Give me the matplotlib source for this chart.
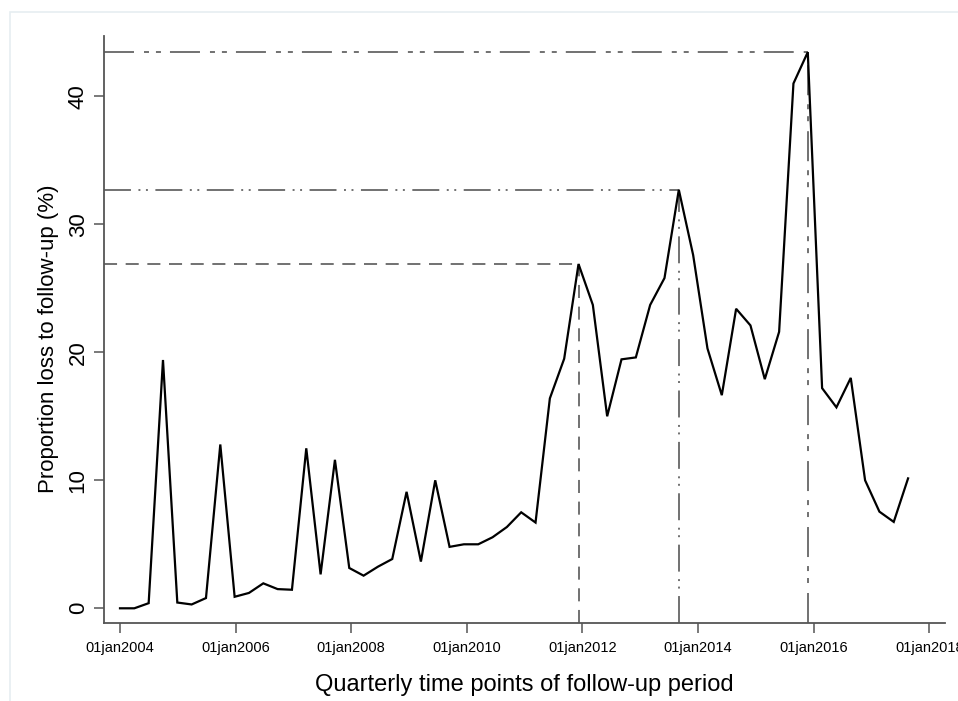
import numpy as np
import matplotlib
matplotlib.use("Agg")
import matplotlib.pyplot as plt
from matplotlib.patches import Rectangle

plt.rcParams['font.family'] = ['Liberation Sans', 'DejaVu Sans']
plt.rcParams['lines.scale_dashes'] = False

# Quarterly follow-up points starting 01jan2004 (about 90.5 days apart)
start_year = 2004.0
quarter_step_years = 0.2479
loss_pct = [0.0, 0.0, 0.4, 19.4, 0.45, 0.3, 0.8, 12.8, 0.9, 1.2,
            1.95, 1.5, 1.45, 12.5, 2.65, 11.6, 3.15, 2.55, 3.25, 3.85,
            9.1, 3.65, 10.0, 4.8, 5.0, 5.0, 5.55, 6.35, 7.5, 6.7,
            16.4, 19.5, 26.9, 23.7, 15.0, 19.45, 19.6, 23.7, 25.8, 32.7,
            27.6, 20.3, 16.65, 23.4, 22.1, 17.9, 21.6, 41.0, 43.45, 17.2,
            15.7, 18.0, 10.0, 7.55, 6.75, 10.15]
peak_indices = [32, 39, 48]
x_tick_years = [2004, 2006, 2008, 2010, 2012, 2014, 2016, 2018]
x_tick_labels = ["01jan2004", "01jan2006", "01jan2008", "01jan2010",
                 "01jan2012", "01jan2014", "01jan2016", "01jan2018"]
y_ticks = [0, 10, 20, 30, 40]

x = start_year + np.arange(len(loss_pct)) * quarter_step_years
y = np.array(loss_pct)

W, H = 958, 701
fig = plt.figure(figsize=(W / 100, H / 100), dpi=100)
fig.patch.set_facecolor('white')
# light outer graph-region frame
fig.patches.append(Rectangle((10 / W, -0.05), 1.1, 1 - 12 / H + 0.05,
                             transform=fig.transFigure, fill=False,
                             edgecolor='#e6eef1', linewidth=1.2))

ax = fig.add_axes([104 / W, 1 - 623 / H, (945 - 104) / W, (623 - 36) / H])
xmin = 2004 - (120 - 104) / 57.8
xmax = 2004 + (945 - 120) / 57.8
ymin = (608.3 - 623) / 12.8
ymax = (608.3 - 36) / 12.8
ax.set_xlim(xmin, xmax)
ax.set_ylim(ymin, ymax)

ref_color = '#4a4a4a'
styles = [
    (0, (9.4, 6.2)),
    (0, (19.4, 5.4, 1.4, 4.0, 1.4, 5.4)),
    (0, (21.6, 7.2, 3.6, 5.0, 3.6, 6.5)),
]
for idx, ls in zip(peak_indices, styles):
    px, py = x[idx], y[idx]
    ax.plot([xmin, px], [py, py], color=ref_color, lw=1.1, linestyle=ls,
            solid_capstyle='butt', dash_capstyle='butt')
    ax.plot([px, px], [ymin, py], color=ref_color, lw=1.1, linestyle=ls,
            solid_capstyle='butt', dash_capstyle='butt')

ax.plot(x, y, color='black', lw=1.6, solid_joinstyle='miter')

for s in ['top', 'right']:
    ax.spines[s].set_visible(False)
for s in ['left', 'bottom']:
    ax.spines[s].set_color('#555555')
    ax.spines[s].set_linewidth(1.3)

ax.set_xticks(x_tick_years)
ax.set_xticklabels(x_tick_labels, fontsize=10.5)
ax.set_yticks(y_ticks)
ax.set_yticklabels([str(v) for v in y_ticks], fontsize=16, rotation=90,
                   va='center')
ax.tick_params(axis='both', direction='out', length=7, width=1.1,
               color='#555555')
ax.tick_params(axis='x', pad=6)
ax.tick_params(axis='y', pad=4)

ax.set_xlabel("Quarterly time points of follow-up period", fontsize=17,
              labelpad=14)
ax.set_ylabel("Proportion loss to follow-up (%)", fontsize=16)
ax.yaxis.set_label_coords(-0.0535, 0.485)

fig.savefig("out.png", dpi=100, facecolor='white')
